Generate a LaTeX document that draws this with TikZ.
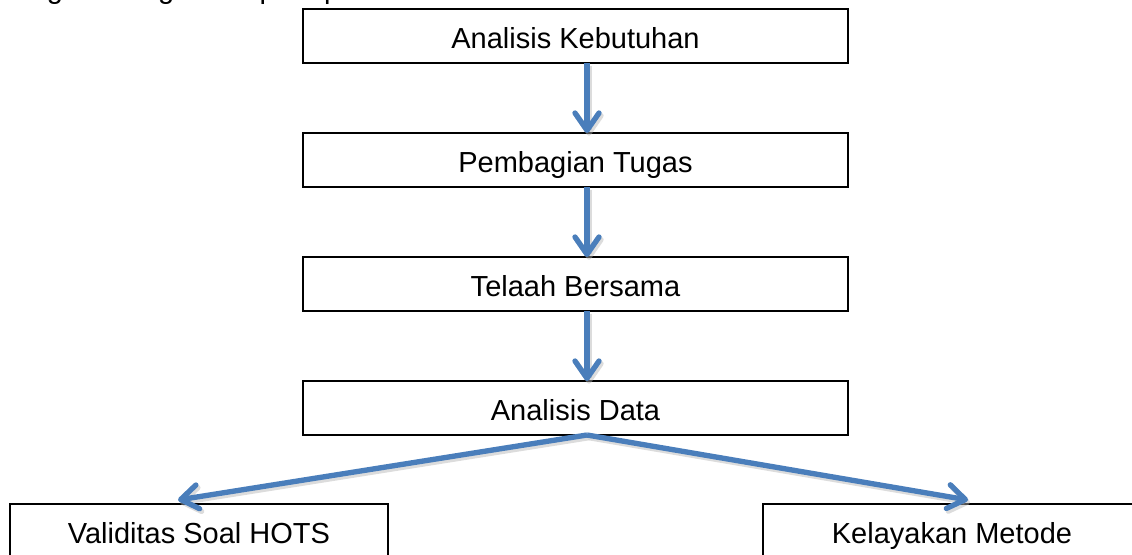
\documentclass[tikz,border=0pt]{standalone}
\usepackage{fontspec}
\setmainfont{Liberation Sans}
\usetikzlibrary{arrows.meta}
\definecolor{arrowblue}{HTML}{4A7EBB}
\begin{document}
\begin{tikzpicture}[x=0.75pt,y=-0.75pt,
  txt/.style={font=\fontsize{21.75pt}{26pt}\selectfont, text height=18pt, text depth=0pt},
  stepbox/.style={txt, draw=black, line width=2pt, inner sep=0pt, outer sep=0pt,
    minimum width=545*0.75pt, minimum height=54*0.75pt},
  endbox/.style={txt, draw=black, line width=2pt, inner sep=0pt, outer sep=0pt,
    minimum width=378*0.75pt, minimum height=55*0.75pt},
  flow/.style={draw=arrowblue, line width=4pt,
    -{Straight Barb[length=13pt,width=18pt,round]}},
  flowshadow/.style={draw=black!30, opacity=0.45, line width=4pt,
    -{Straight Barb[length=13pt,width=18pt,round]}}
]
\useasboundingbox (0,0) rectangle (1132,554);
\clip (0,0) rectangle (1132,554);

\node[font=\fontsize{21.75pt}{26pt}\selectfont, anchor=base west, inner sep=0pt] (para) at (8,-1.5) {langkah-langkah seperti pada Gambar 1.};

\node[stepbox] (b1) at (575.5,36) {Analisis Kebutuhan};
\node[stepbox] (b2) at (575.5,160) {Pembagian Tugas};
\node[stepbox] (b3) at (575.5,284) {Telaah Bersama};
\node[stepbox] (b4) at (575.5,408) {Analisis Data};
\node[endbox] (v) at (199,531.5) {Validitas Soal HOTS};
\node[endbox] (k) at (952,531.5) {Kelayakan Metode};

\coordinate (ax) at (587,0);
\coordinate (tipv) at (178,500);
\coordinate (tipk) at (968,500);

\begin{scope}[transform canvas={shift={(1.5pt,-2pt)}}]
  \draw[flowshadow] (b1.south -| ax) -- (b2.north -| ax);
  \draw[flowshadow] (b2.south -| ax) -- (b3.north -| ax);
  \draw[flowshadow] (b3.south -| ax) -- (b4.north -| ax);
  \draw[flowshadow] (b4.south -| ax) -- (tipv);
  \draw[flowshadow] (b4.south -| ax) -- (tipk);
\end{scope}

\draw[flow] (b1.south -| ax) -- (b2.north -| ax);
\draw[flow] (b2.south -| ax) -- (b3.north -| ax);
\draw[flow] (b3.south -| ax) -- (b4.north -| ax);
\draw[flow] (b4.south -| ax) -- (tipv);
\draw[flow] (b4.south -| ax) -- (tipk);
\end{tikzpicture}
\end{document}
